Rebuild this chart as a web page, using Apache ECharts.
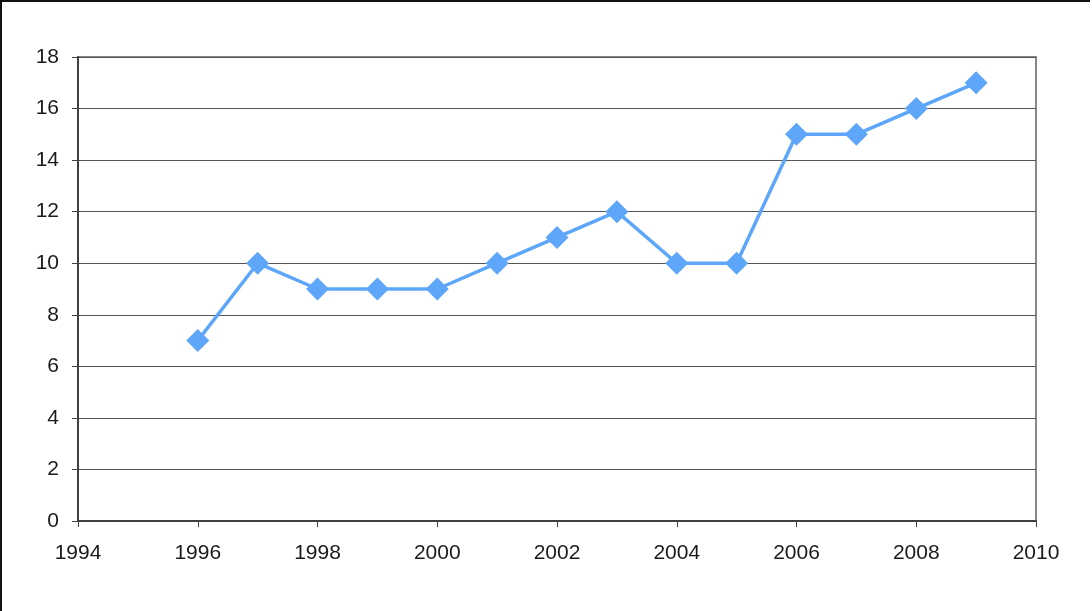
<!DOCTYPE html>
<html>
<head>
<meta charset="utf-8">
<script src="https://cdn.jsdelivr.net/npm/echarts@6/dist/echarts.min.js"></script>
<style>
  html, body { margin: 0; padding: 0; background: #fff; }
  #frame { position: absolute; left: 0; top: 0; width: 1090px; height: 611px; border-top: 2px solid #111; border-left: 2px solid #111; box-sizing: border-box; }
  #main { position: absolute; left: 0; top: 0; width: 1092px; height: 611px; }
</style>
</head>
<body>
<div id="frame"></div>
<div id="main"></div>
<script>
// 数据
const years = [1996, 1997, 1998, 1999, 2000, 2001, 2002, 2003, 2004, 2005, 2006, 2007, 2008, 2009];
const values = [7, 10, 9, 9, 9, 10, 11, 12, 10, 10, 15, 15, 16, 17];

const chart = echarts.init(document.getElementById('main'));

const labelFont = { color: '#1a1a1a', fontSize: 21, fontFamily: 'Liberation Sans' };

chart.setOption({
    animation: false,
    grid: {
        left: 78, right: 56, top: 57, bottom: 90,
        show: true,
        borderColor: '#888888',
        borderWidth: 2
    },
    xAxis: {
        type: 'value',
        min: 1994, max: 2010, interval: 2,
        axisLine: { show: true, lineStyle: { color: '#404040', width: 2 } },
        axisTick: { show: true, length: 6, lineStyle: { color: '#404040', width: 1 } },
        axisLabel: Object.assign({ margin: 22, formatter: v => String(v) }, labelFont),
        splitLine: { show: false }
    },
    yAxis: {
        type: 'value',
        min: 0, max: 18, interval: 2,
        axisLine: { show: true, lineStyle: { color: '#404040', width: 2 } },
        axisTick: { show: true, length: 6, lineStyle: { color: '#404040', width: 1 } },
        axisLabel: Object.assign({ margin: 19 }, labelFont),
        splitLine: { show: true, lineStyle: { color: '#555555', width: 1 } }
    },
    series: [{
        type: 'line',
        data: years.map((y, i) => [y, values[i]]),
        symbol: 'diamond',
        symbolSize: 23,
        lineStyle: { color: '#5ea6fa', width: 3.5 },
        itemStyle: { color: '#5ea6fa' }
    }]
});
</script>
</body>
</html>
